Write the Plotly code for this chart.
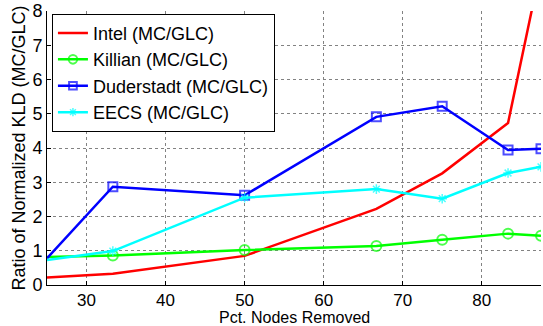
import plotly.graph_objects as go

pct_removed = [25, 33.33, 50, 66.67, 75, 83.33, 87.5]
intel = [0.22, 0.33, 0.85, 2.22, 3.26, 4.73, 9.3]
killian = [0.82, 0.86, 1.02, 1.14, 1.32, 1.50, 1.44]
duderstadt = [0.78, 2.87, 2.62, 4.91, 5.22, 3.94, 3.98]
eecs = [0.73, 0.99, 2.55, 2.80, 2.52, 3.27, 3.45]

x_ticks = [30, 40, 50, 60, 70, 80]
y_ticks = [0, 1, 2, 3, 4, 5, 6, 7, 8]

FONT = "Liberation Sans, Arial, Helvetica, sans-serif"
FS = 18


def sizes(n, s):
    # markers are not drawn at the left edge point (clipped in the original)
    return [0] + [s] * (n - 1)


n = len(pct_removed)
fig = go.Figure()
fig.add_trace(go.Scatter(x=pct_removed, y=intel, mode="lines", name="Intel (MC/GLC)",
                         line=dict(color="#ff0000", width=2.5)))
fig.add_trace(go.Scatter(x=pct_removed, y=killian, mode="lines+markers", name="Killian (MC/GLC)",
                         line=dict(color="#00ff00", width=2.5),
                         marker=dict(symbol="circle-open", size=sizes(n, 10), color="#00ff00", line=dict(width=2))))
fig.add_trace(go.Scatter(x=pct_removed, y=duderstadt, mode="lines+markers", name="Duderstadt (MC/GLC)",
                         line=dict(color="#0000ff", width=2.5),
                         marker=dict(symbol="square-open", size=sizes(n, 9), color="#0000ff", line=dict(width=2))))
fig.add_trace(go.Scatter(x=pct_removed, y=eecs, mode="lines+markers", name="EECS (MC/GLC)",
                         line=dict(color="#00ffff", width=2.5),
                         marker=dict(symbol="asterisk-open", size=sizes(n, 8), color="#00ffff",
                                     line=dict(width=1.5, color="#00ffff"))))

fig.update_layout(
    width=543, height=326,
    margin=dict(l=47, r=2, t=11, b=41),
    paper_bgcolor="white", plot_bgcolor="white",
    font=dict(family=FONT, size=FS, color="black"),
    showlegend=True,
    legend=dict(x=0.01, y=0.99, xanchor="left", yanchor="top",
                bgcolor="white", bordercolor="black", borderwidth=1,
                font=dict(size=FS), tracegroupgap=0, itemwidth=30),
    xaxis=dict(range=[25, 87.5], tickvals=x_ticks, showline=True, linecolor="black", linewidth=1,
               ticks="inside", ticklen=4, tickcolor="black", tickfont=dict(size=17),
               showgrid=True, gridcolor="rgb(130,130,130)", griddash="dot", gridwidth=1,
               zeroline=False, mirror=False, automargin=False),
    yaxis=dict(range=[0, 8], tickvals=y_ticks, showline=True, linecolor="black", linewidth=1,
               ticks="inside", ticklen=4, tickcolor="black",
               showgrid=True, gridcolor="rgb(130,130,130)", griddash="dot", gridwidth=1,
               zeroline=False, automargin=False,
               title=dict(text="Ratio of Normalized KLD (MC/GLC)", standoff=2, font=dict(size=FS))),
    annotations=[dict(text="Pct. Nodes Removed", xref="paper", yref="paper",
                      x=0.502, y=-0.1185, xanchor="center", yanchor="middle",
                      showarrow=False, font=dict(size=16, family=FONT, color="black"))],
)

fig.write_html("out.html")
